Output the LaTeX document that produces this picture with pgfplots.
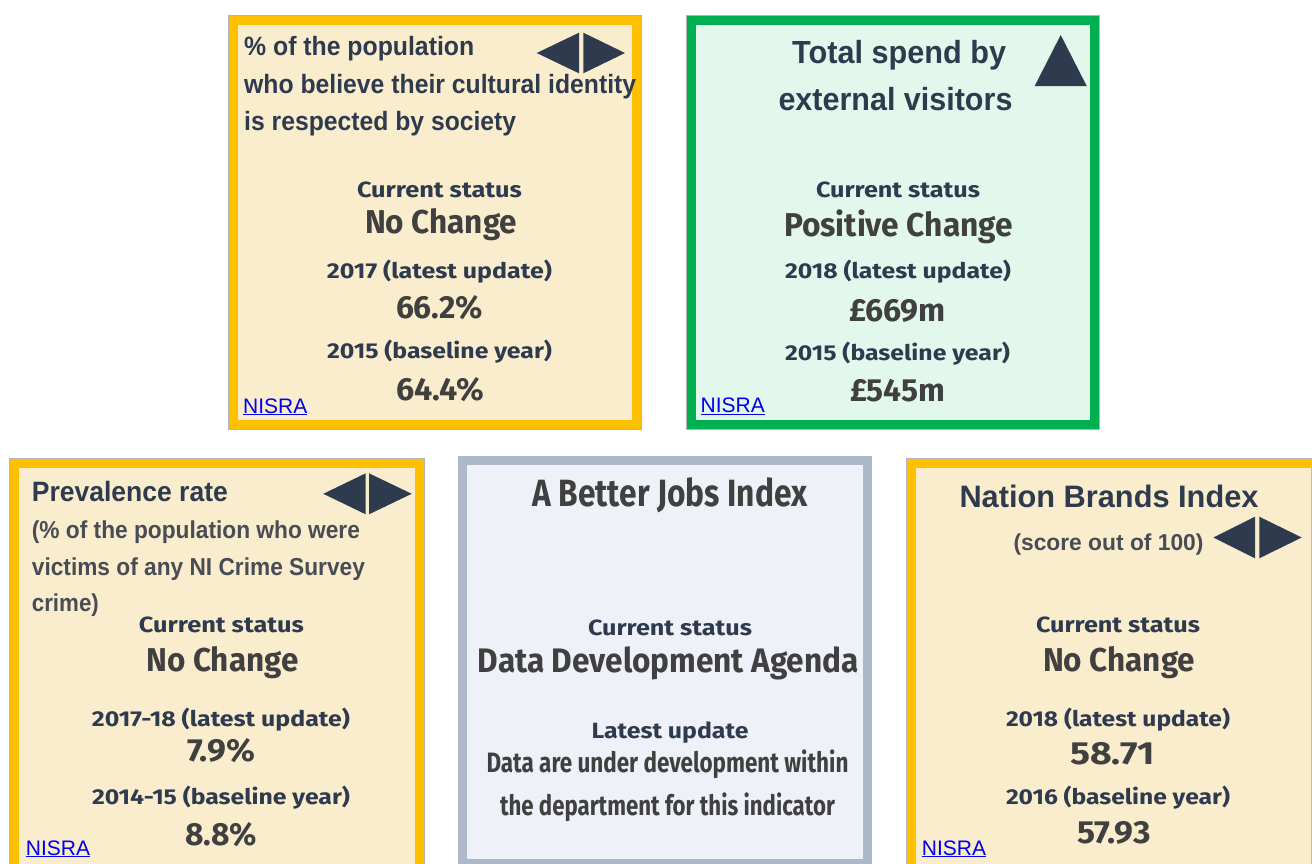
\documentclass[border=0pt]{standalone}
\usepackage{pgfplots}
\pgfplotsset{compat=1.18}
\usepackage{fontspec}
\setmainfont{Liberation Sans}
\newfontfamily\fira{Fira Sans}

\definecolor{navy}{HTML}{2E3A4D}
\definecolor{valgray}{HTML}{404040}
\definecolor{subgray}{HTML}{474C55}
\definecolor{linkblue}{HTML}{0000EE}
\definecolor{amber}{HTML}{FFC000}
\definecolor{cream}{HTML}{FAEDCE}
\definecolor{green}{HTML}{00B050}
\definecolor{mint}{HTML}{E2F8EC}
\definecolor{slate}{HTML}{ADB9CA}
\definecolor{pale}{HTML}{EEF2F8}
\definecolor{rim}{HTML}{B4B4B4}

% font shortcuts
\newcommand{\lsb}[1]{\bfseries\fontsize{#1}{#1}\selectfont}
\newcommand{\lsr}[1]{\fontsize{#1}{#1}\selectfont}
\newcommand{\fb}[1]{\fira\bfseries\fontsize{#1}{#1}\selectfont}
% one line of text: anchor, colour, font, position, width, text
\newcommand{\tx}[6]{\node[anchor=#1, inner sep=0pt, text=#2, font=#3] at (axis cs:#4) {\resizebox{#5pt}{\height}{#6}};}
\newcommand{\src}[1]{\node[anchor=base west, inner sep=0pt, text=linkblue, font=\lsr{21}] at (axis cs:#1) {\underline{NISRA}};}

\begin{document}
\begin{tikzpicture}
\begin{axis}[
    name=ax,
    x=1pt, y=1pt, y dir=reverse,
    xmin=0, xmax=1312, ymin=0, ymax=863,
    hide axis, clip=true, no markers,
]
% ---- card frames
\addplot[fill=cream, draw=amber, line width=9pt] coordinates {(233.5,20.5) (636.5,20.5) (636.5,424.5) (233.5,424.5)} --cycle;
\addplot[draw=rim, line width=1pt] coordinates {(228.5,15.5) (641.5,15.5) (641.5,429.5) (228.5,429.5)} --cycle;
\addplot[fill=mint, draw=green, line width=9pt] coordinates {(691.5,20.5) (1094.5,20.5) (1094.5,424.5) (691.5,424.5)} --cycle;
\addplot[draw=rim, line width=1pt] coordinates {(686.5,15.5) (1099.5,15.5) (1099.5,429.5) (686.5,429.5)} --cycle;
\addplot[fill=cream, draw=amber, line width=9pt] coordinates {(14.5,463.5) (419.5,463.5) (419.5,874.5) (14.5,874.5)} --cycle;
\addplot[draw=rim, line width=1pt] coordinates {(9.5,458.5) (424.5,458.5) (424.5,879.5) (9.5,879.5)} --cycle;
\addplot[fill=pale, draw=slate, line width=9pt] coordinates {(462.5,460.5) (867.5,460.5) (867.5,863.5) (462.5,863.5)} --cycle;
\addplot[fill=cream, draw=amber, line width=9pt] coordinates {(911.5,463.5) (1315.5,463.5) (1315.5,874.5) (911.5,874.5)} --cycle;
\addplot[draw=rim, line width=1pt] coordinates {(906.5,458.5) (1320.5,458.5) (1320.5,879.5) (906.5,879.5)} --cycle;

% ---- status icons
\addplot[fill=navy, draw=none] coordinates {(536.7,53) (579,32.7) (579,73.3)} --cycle;
\addplot[fill=navy, draw=none] coordinates {(583.3,32.7) (583.3,73.3) (625,53)} --cycle;
\addplot[fill=navy, draw=none] coordinates {(1060.7,35) (1086.7,86) (1034.7,86)} --cycle;
\addplot[fill=navy, draw=none] coordinates {(323.3,493.8) (365.7,473.3) (365.7,514.3)} --cycle;
\addplot[fill=navy, draw=none] coordinates {(369,473.3) (369,514.3) (411.7,493.8)} --cycle;
\addplot[fill=navy, draw=none] coordinates {(1213.3,537.5) (1255,516.7) (1255,558.3)} --cycle;
\addplot[fill=navy, draw=none] coordinates {(1259.3,516.7) (1259.3,558.3) (1301.7,537.5)} --cycle;

% ---- card 1
\tx{base west}{navy}{\lsb{26.5}}{244,55.7}{230}{\% of the population}
\tx{base west}{navy}{\lsb{26.5}}{244,93.3}{392}{who believe their cultural identity}
\tx{base west}{navy}{\lsb{26.5}}{244,130.7}{272}{is respected by society}
\tx{base}{navy}{\fb{22}}{439.5,197.5}{165}{Current status}
\tx{base}{valgray}{\fb{33}}{441,233.3}{152}{No Change}
\tx{base}{navy}{\fb{21.5}}{439.5,278}{225}{2017 (latest update)}
\tx{base}{valgray}{\fb{32}}{439.5,318.3}{87}{66.2\%}
\tx{base}{navy}{\fb{21.5}}{439.5,358.3}{225}{2015 (baseline year)}
\tx{base}{valgray}{\fb{32}}{440,400}{88}{64.4\%}
\src{243,413}

% ---- card 2
\tx{base west}{navy}{\lsb{32}}{792,63.3}{214}{Total spend by}
\tx{base west}{navy}{\lsb{32}}{778.3,110}{234}{external visitors}
\tx{base}{navy}{\fb{22}}{898,197.3}{164}{Current status}
\tx{base}{valgray}{\fb{33}}{898.5,236.7}{229}{Positive Change}
\tx{base}{navy}{\fb{21.5}}{898,278.3}{226}{2018 (latest update)}
\tx{base}{valgray}{\fb{32}}{897.5,321.7}{97}{£669m}
\tx{base}{navy}{\fb{21.5}}{897.5,360}{225}{2015 (baseline year)}
\tx{base}{valgray}{\fb{32}}{897.5,401.7}{95}{£545m}
\src{700.5,412.7}

% ---- card 3
\tx{base west}{navy}{\lsb{28}}{31.7,501.7}{196}{Prevalence rate}
\tx{base west}{subgray}{\lsb{24.5}}{31.7,538.3}{328}{(\% of the population who were}
\tx{base west}{subgray}{\lsb{24.5}}{31.7,575}{333}{victims of any NI Crime Survey}
\tx{base west}{subgray}{\lsb{24.5}}{31.7,611.5}{67}{crime)}
\tx{base}{navy}{\fb{22}}{221.5,632.3}{165}{Current status}
\tx{base}{valgray}{\fb{33}}{222.5,671.7}{152}{No Change}
\tx{base}{navy}{\fb{21.5}}{221,726.7}{258}{2017-18 (latest update)}
\tx{base}{valgray}{\fb{32}}{221,761.7}{68}{7.9\%}
\tx{base}{navy}{\fb{21.5}}{221,804}{258}{2014-15 (baseline year)}
\tx{base}{valgray}{\fb{32}}{221,845}{72}{8.8\%}
\src{25.7,855}

% ---- card 4
\tx{base}{valgray}{\fb{38}}{670,506.7}{275}{A Better Jobs Index}
\tx{base}{navy}{\fb{22}}{670,635}{164}{Current status}
\tx{base}{valgray}{\fb{34}}{668.3,672.7}{381}{Data Development Agenda}
\tx{base}{navy}{\fb{22}}{670,738.3}{157}{Latest update}
\tx{base}{valgray}{\fb{28}}{667.5,772.7}{362}{Data are under development within}
\tx{base}{valgray}{\fb{28}}{667.5,815}{335}{the department for this indicator}

% ---- card 5
\tx{base west}{navy}{\lsb{31}}{959.3,507.7}{299}{Nation Brands Index}
\tx{base west}{subgray}{\lsb{23}}{1013.3,550}{190}{(score out of 100)}
\tx{base}{navy}{\fb{22}}{1118,632.3}{164}{Current status}
\tx{base}{valgray}{\fb{33}}{1119,671.7}{152}{No Change}
\tx{base}{navy}{\fb{21.5}}{1118,726.7}{224}{2018 (latest update)}
\tx{base}{valgray}{\fb{32}}{1112.5,764.3}{85}{58.71}
\tx{base}{navy}{\fb{21.5}}{1118,804}{224}{2016 (baseline year)}
\tx{base}{valgray}{\fb{32}}{1114,843.3}{73}{57.93}
\src{921.7,855}
\end{axis}
\pgfresetboundingbox
\path (ax.south west) rectangle (ax.north east);
\end{tikzpicture}
\end{document}
